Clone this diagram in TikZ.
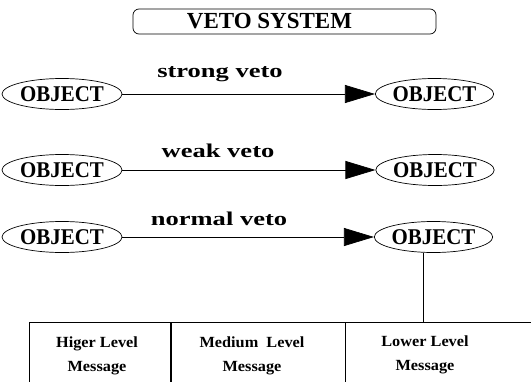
\documentclass[tikz,border=0pt]{standalone}
\usepackage{fontspec}
\setmainfont{Liberation Serif}
\usetikzlibrary{arrows.meta,shapes.geometric}
\tikzset{
  obj/.style={ellipse,draw,line width=0.7pt,inner sep=0pt,minimum height=31pt,font=\fontsize{22.5}{22.5}\selectfont\bfseries},
  lbl/.style={inner sep=0pt,font=\fontsize{19.5}{19.5}\selectfont\bfseries},
  veto/.style={draw,line width=0.7pt,-{Triangle[length=30pt,width=18pt]}},
  msgbox/.style={draw,line width=0.7pt,rectangle,inner sep=0pt,anchor=north west,minimum height=80pt},
  msg/.style={inner sep=0pt,align=center,font=\fontsize{15.5}{24}\selectfont\bfseries},
}
\begin{document}
\begin{tikzpicture}[x=1pt,y=-1pt]
\clip (0,0) rectangle (531,381);
\fill[white] (0,0) rectangle (531,381);
% title
\node[draw,line width=0.7pt,rounded corners=6pt,minimum width=303pt,minimum height=25pt,inner sep=0pt] (title) at (284.5,21.5) {};
\node[inner sep=0pt,font=\fontsize{23}{23}\selectfont\bfseries] (titletext) at (269.5,21.5) {VETO SYSTEM};
% rows
\node[obj,minimum width=120pt] (l1) at (62,94) {\scalebox{0.93}[1]{OBJECT}};
\node[obj,minimum width=116pt] (r1) at (434.5,94) {\scalebox{0.93}[1]{OBJECT}};
\node[obj,minimum width=120pt] (l2) at (62,170) {\scalebox{0.93}[1]{OBJECT}};
\node[obj,minimum width=116pt] (r2) at (435,170) {\scalebox{0.93}[1]{OBJECT}};
\node[obj,minimum width=120pt] (l3) at (62,237) {\scalebox{0.93}[1]{OBJECT}};
\node[obj,minimum width=114pt] (r3) at (433.5,237) {\scalebox{0.93}[1]{OBJECT}};
\draw[veto] (l1) -- (r1);
\draw[veto] (l2) -- (r2);
\draw[veto] (l3) -- (r3);
\node[lbl] (t1) at (220,74) {\scalebox{1.36}[1]{strong veto}};
\node[lbl] (t2) at (218,151) {\scalebox{1.36}[1]{weak veto}};
\node[lbl] (t3) at (219,219) {\scalebox{1.36}[1]{normal veto}};
% message boxes
\node[msgbox,minimum width=142pt] (b1) at (29,322) {};
\node[msgbox,minimum width=174pt] (b2) at (171,322) {};
\node[msgbox,minimum width=200pt] (b3) at (345,322) {};
\draw[line width=1.8pt] (b2.north west) -- (b2.south west);
\node[msg] (m1) at (97,356) {\scalebox{1.05}[1]{Higer Level}\\\scalebox{1.05}[1]{Message}};
\node[msg] (m2) at (252,356) {\scalebox{1.05}[1]{Medium\ \ Level}\\\scalebox{1.05}[1]{Message}};
\node[msg] (m3) at (425,355) {\scalebox{1.05}[1]{Lower Level}\\\scalebox{1.05}[1]{Message}};
\coordinate (b3top) at (423,322);
\draw[line width=0.7pt] (b3top) -- (b3top |- r3.south);
\end{tikzpicture}
\end{document}
